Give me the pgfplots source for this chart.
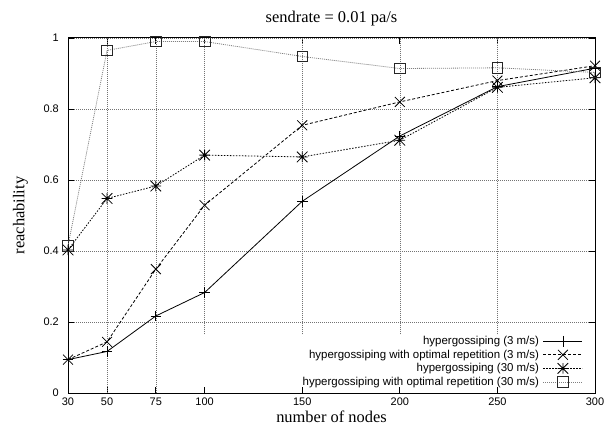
\documentclass[border=0pt]{standalone}
\usepackage{fontspec}
\setmainfont{Liberation Serif}
\setsansfont{Liberation Sans}
\usepackage{pgfplots}
\pgfplotsset{compat=1.18}

% gnuplot style "*" point: a + with an x over it
\pgfdeclareplotmark{gpstar}{%
  \pgfpathmoveto{\pgfqpoint{-\pgfplotmarksize}{0pt}}%
  \pgfpathlineto{\pgfqpoint{\pgfplotmarksize}{0pt}}%
  \pgfpathmoveto{\pgfqpoint{0pt}{-\pgfplotmarksize}}%
  \pgfpathlineto{\pgfqpoint{0pt}{\pgfplotmarksize}}%
  \pgfpathmoveto{\pgfqpoint{-\pgfplotmarksize}{-\pgfplotmarksize}}%
  \pgfpathlineto{\pgfqpoint{\pgfplotmarksize}{\pgfplotmarksize}}%
  \pgfpathmoveto{\pgfqpoint{-\pgfplotmarksize}{\pgfplotmarksize}}%
  \pgfpathlineto{\pgfqpoint{\pgfplotmarksize}{-\pgfplotmarksize}}%
  \pgfusepathqstroke}

\tikzset{gpgrid/.style={line width=0.6bp, black!55, dash pattern=on 1bp off 1bp}}

\begin{document}
\begin{tikzpicture}
\path[use as bounding box] (0,0) rectangle (616bp,428bp);
\begin{axis}[
  at={(68bp,35bp)}, anchor=south west,
  scale only axis, width=527bp, height=355bp,
  xmin=30, xmax=300, ymin=0, ymax=1,
  xtick={30,50,75,100,150,200,250,300},
  ytick={0,0.2,0.4,0.6,0.8,1},
  tick align=inside, tick pos=both,
  major tick length=6bp,
  tick style={black, line width=0.8bp},
  axis line style={black, line width=1bp},
  ymajorgrids, grid style={gpgrid},
  /pgf/number format/assume math mode=true,
  tick label style={font=\sffamily\fontsize{11}{13}\selectfont},
  xticklabel style={anchor=north, inner sep=0pt, yshift=-5bp},
  yticklabel style={anchor=east, inner sep=0pt, xshift=-9bp},
  title={sendrate = 0.01 pa/s},
  title style={font=\fontsize{16.5}{19}\selectfont, at={(axis description cs:0.5,1.028)}, anchor=base},
  xlabel={number of nodes},
  xlabel style={font=\fontsize{16.5}{19}\selectfont, at={(axis description cs:0.5,-0.082)}, anchor=base},
  ylabel={reachability},
  every axis y label/.style={font=\fontsize{16.5}{19}\selectfont,
    at={(axis description cs:-0.083,0.5)}, rotate=90, anchor=base},
  legend plot pos=right,
  legend cell align=right,
  legend style={draw=none, fill=none, at={(axis description cs:1,0)}, anchor=south east,
    xshift=-12bp, yshift=4bp, inner sep=0pt, row sep=0pt, column sep=3bp,
    font=\sffamily\fontsize{11.5}{13}\selectfont,
    nodes={inner sep=1bp, text height=9bp, text depth=2.6bp}},
  legend image code/.code={%
    \draw[mark repeat=2, mark phase=2, #1] plot coordinates {(0bp,0bp) (19.5bp,0bp) (39bp,0bp)};},
]
% vertical grid lines (gnuplot leaves the key area free)
\addplot[gpgrid, forget plot] coordinates {(50,0) (50,1)};
\addplot[gpgrid, forget plot] coordinates {(75,0) (75,1)};
\addplot[gpgrid, forget plot] coordinates {(100,0.165) (100,1)};
\addplot[gpgrid, forget plot] coordinates {(150,0.165) (150,1)};
\addplot[gpgrid, forget plot] coordinates {(200,0.165) (200,1)};
\addplot[gpgrid, forget plot] coordinates {(250,0.165) (250,1)};

\addplot[black, line width=0.8bp, mark=+, mark size=5.3bp, mark options={solid}] coordinates {
 (30,0.094)(50,0.117)(75,0.217)(100,0.283)(150,0.540)(200,0.724)(250,0.863)(300,0.915)};
\addlegendentry{hypergossiping (3 m/s)}
\addplot[black, line width=0.8bp, dash pattern=on 3bp off 2bp, mark=x, mark size=7bp, mark options={solid}] coordinates {
 (30,0.094)(50,0.144)(75,0.349)(100,0.529)(150,0.754)(200,0.820)(250,0.880)(300,0.922)};
\addlegendentry{hypergossiping with optimal repetition (3 m/s)}
\addplot[black, line width=0.8bp, dash pattern=on 1.5bp off 1.5bp, mark=gpstar, mark size=5.3bp, mark options={solid}] coordinates {
 (30,0.403)(50,0.548)(75,0.583)(100,0.670)(150,0.665)(200,0.712)(250,0.861)(300,0.888)};
\addlegendentry{hypergossiping (30 m/s)}
\addplot[black!50, line width=0.8bp, dash pattern=on 1bp off 1bp, mark=square, mark size=5.3bp, mark options={solid, black!85}] coordinates {
 (30,0.415)(50,0.965)(75,0.990)(100,0.990)(150,0.948)(200,0.914)(250,0.916)(300,0.903)};
\addlegendentry{hypergossiping with optimal repetition (30 m/s)}
\end{axis}
\end{tikzpicture}
\end{document}
